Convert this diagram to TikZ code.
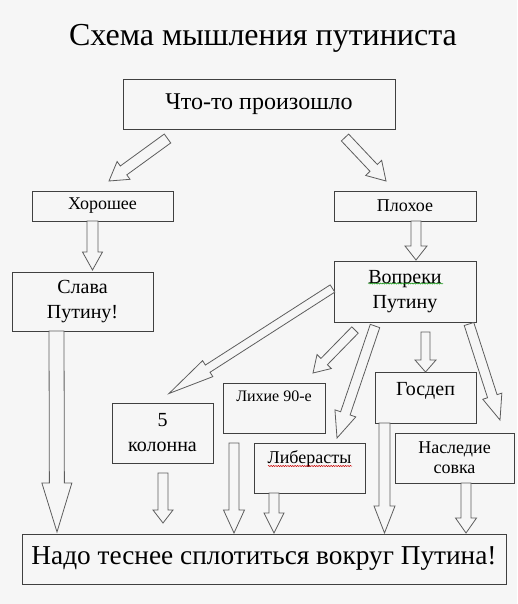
\documentclass[tikz,border=0pt]{standalone}
\usepackage{fontspec}
\setmainfont{Liberation Serif}
\usepackage{tikz}
\usetikzlibrary{calc,decorations.pathmorphing}
\definecolor{DEFINE_BG_COLOR}{HTML}{F6F6F6}
\definecolor{DEFINE_LINE_COLOR}{HTML}{404040}
\tikzstyle{layer} = [rectangle, draw=DEFINE_LINE_COLOR, line width=0.9pt, fill=DEFINE_BG_COLOR, inner sep=0pt, align=center, text=black]
\tikzstyle{small_box} = [layer, font=\fontsize{18}{20}\selectfont]
\tikzstyle{big_box} = [layer, font=\fontsize{20}{25}\selectfont]
\tikzstyle{fat} = [draw=DEFINE_LINE_COLOR!85!white, line width=0.8pt, fill=DEFINE_BG_COLOR, line join=miter]
% hollow block arrow: from, tip, half shaft, half head, head length
\newcommand{\fatarrow}[5]{%
  \coordinate (hd) at ($(#2)!#5!(#1)$);
  \draw[fat] ($(#1)!#3!90:(#2)$) -- ($(hd)!#3!90:(#2)$) -- ($(hd)!#4!90:(#2)$) -- (#2)
    -- ($(hd)!#4!-90:(#2)$) -- ($(hd)!#3!-90:(#2)$) -- ($(#1)!#3!-90:(#2)$) -- cycle;
}

\begin{document}
\begin{tikzpicture}[x=1pt, y=-1pt]
      \tikzstyle{spell}=[decorate, decoration={snake, amplitude=0.6pt, segment length=2.4pt}, line width=0.5pt]

      \fill[DEFINE_BG_COLOR] (0,0) rectangle (517,604);
      \useasboundingbox (0,0) rectangle (517,604);

      \node[font=\fontsize{32}{36}\selectfont] (TTL) at (263,38) {Схема мышления путиниста};

      %%%%%%%%%%%%%%%%%%%%%%%%%%%%%%%%%%%%%%%%%%%%%%%%%
      % BOXES
      %%%%%%%%%%%%%%%%%%%%%%%%%%%%%%%%%%%%%%%%%%%%%%%%%
      \node[layer, font=\fontsize{24}{28}\selectfont, minimum width=272pt, minimum height=50pt] (EVT) at (259,104) {Что-то произошло};

      \node[small_box, minimum width=141pt, minimum height=30pt] (GOOD) at (102.5,206) {Хорошее};
      \node[small_box, minimum width=142pt, minimum height=30pt] (BAD)  at (405,206)   {Плохое};

      \node[big_box, minimum width=141pt, minimum height=59pt] (GLORY) at (82.5,301.5) {Слава\\Путину!};
      \node[big_box, minimum width=142pt, minimum height=61pt] (DESP)  at (405,291.5)  {Вопреки\\Путину};

      % enemies
      \node[big_box, minimum width=101pt, minimum height=60pt] (COL5) at (162.5,433) {5\\колонна};
      \node[layer, font=\fontsize{16}{18}\selectfont, minimum width=102pt, text height=18pt, text depth=32pt] (N90) at (274,408) {Лихие 90-е};
      \node[small_box, minimum width=111pt, text height=20pt, text depth=30pt] (LIB) at (309.5,468) {Либерасты};
      \node[big_box, minimum width=101pt, text height=23pt, text depth=28pt] (GOSD) at (425.5,397.5) {Госдеп};
      \node[small_box, minimum width=119pt, minimum height=50pt] (SOVOK) at (454.5,458) {Наследие\\совка};

      \node[layer, font=\fontsize{27.3}{32}\selectfont, minimum width=484pt, minimum height=50pt] (RALLY) at (264,559) {Надо теснее сплотиться вокруг Путина!};

      % spell check marks
      \draw[spell, green!55!black] (368,283.5) -- (443,283.5);
      \draw[spell, red!80!black] (268,466) -- (352,466);

      %%%%%%%%%%%%%%%%%%%%%%%%%%%%%%%%%%%%%%%%%%%%%%%%%
      % ARROWS
      %%%%%%%%%%%%%%%%%%%%%%%%%%%%%%%%%%%%%%%%%%%%%%%%%
      \coordinate (EVT_l)   at (167.5,138.5); \coordinate (GOOD_in)  at (109,181);
      \coordinate (EVT_r)   at (345,137.5);   \coordinate (BAD_in)   at (386,181);
      \coordinate (GOOD_out) at (92.5,221);   \coordinate (GLORY_in) at (92.5,270);
      \coordinate (BAD_out) at (416,221);     \coordinate (DESP_in)  at (416,260);
      \coordinate (GLORY_out) at (56.5,331);  \coordinate (RALLY_1)  at (57,532);

      \fatarrow{EVT_l}{GOOD_in}{5.5pt}{11pt}{18pt}
      \fatarrow{EVT_r}{BAD_in}{5pt}{11pt}{18pt}
      \fatarrow{GOOD_out}{GLORY_in}{5.5pt}{10pt}{18pt}
      \fatarrow{BAD_out}{DESP_in}{5pt}{11pt}{14pt}
      \fatarrow{GLORY_out}{RALLY_1}{7.5pt}{15pt}{49pt}

      % out of DESP
      \coordinate (DESP_1) at (332.5,288.5); \coordinate (COL5_in)  at (169,393.5);
      \coordinate (DESP_2) at (355,330);     \coordinate (N90_in)   at (313,373);
      \coordinate (DESP_3) at (375,326);     \coordinate (LIB_in)   at (337,438);
      \coordinate (DESP_4) at (425.5,332);   \coordinate (GOSD_in)  at (425.5,372);
      \coordinate (DESP_5) at (469,324);     \coordinate (SOVOK_in) at (500,420);

      \fatarrow{DESP_1}{COL5_in}{4.3pt}{9.5pt}{46pt}
      \fatarrow{DESP_2}{N90_in}{4.5pt}{10pt}{16pt}
      \fatarrow{DESP_3}{LIB_in}{5pt}{11pt}{26pt}
      \fatarrow{DESP_4}{GOSD_in}{4.5pt}{10.5pt}{12pt}
      \fatarrow{DESP_5}{SOVOK_in}{5pt}{10pt}{25pt}

      % into RALLY
      \coordinate (COL5_out)  at (163,473);   \coordinate (RALLY_2) at (163,523);
      \coordinate (N90_out)   at (234,443);   \coordinate (RALLY_3) at (234,533);
      \coordinate (LIB_out)   at (274,493);   \coordinate (RALLY_4) at (274,533);
      \coordinate (GOSD_out)  at (384.5,423); \coordinate (RALLY_5) at (384.5,533);
      \coordinate (SOVOK_out) at (466,483);   \coordinate (RALLY_6) at (466,533);

      \fatarrow{COL5_out}{RALLY_2}{5pt}{10pt}{13pt}
      \fatarrow{N90_out}{RALLY_3}{5pt}{10.5pt}{23pt}
      \fatarrow{LIB_out}{RALLY_4}{5pt}{10pt}{20pt}
      \fatarrow{GOSD_out}{RALLY_5}{5.5pt}{10.5pt}{27pt}
      \fatarrow{SOVOK_out}{RALLY_6}{5pt}{10.5pt}{15pt}
\end{tikzpicture}
\end{document}
